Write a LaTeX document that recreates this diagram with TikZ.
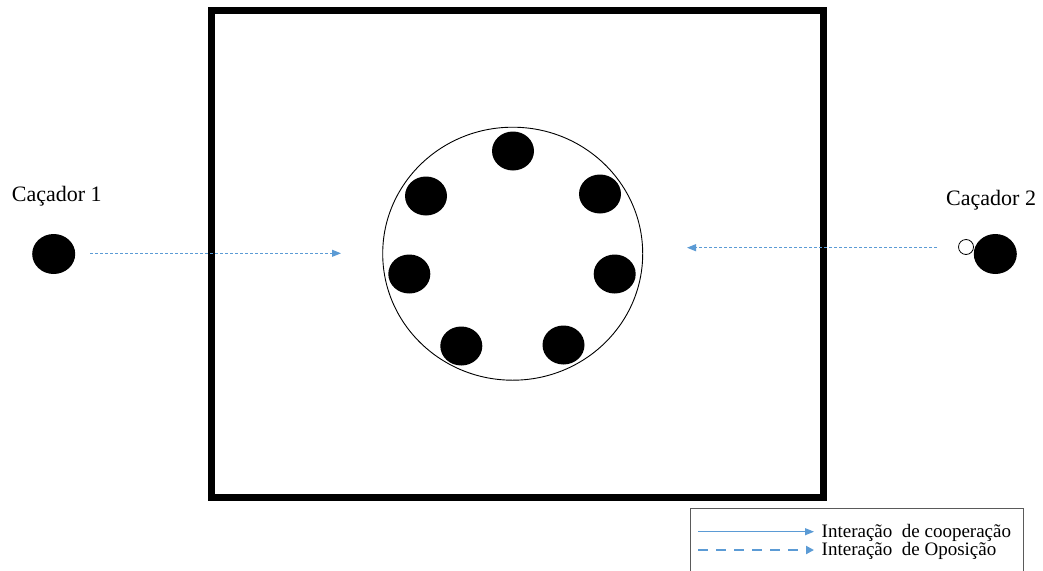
\documentclass[tikz,border=0pt]{standalone}
\usepackage{fontspec}
\setmainfont{Liberation Serif}
\usetikzlibrary{arrows.meta,shapes.geometric}
\definecolor{arrblue}{RGB}{91,155,213}
\definecolor{legframe}{RGB}{90,90,90}
\tikzset{
  dot/.style={ellipse,fill=black,draw=none,minimum width=42pt,minimum height=39pt,inner sep=0pt},
  hunterdot/.style={ellipse,fill=black,draw=none,minimum width=43pt,minimum height=40pt,inner sep=0pt},
  smallring/.style={circle,draw=black,line width=0.8pt,fill=white,minimum size=15pt,inner sep=0pt},
  label22/.style={anchor=base west,inner sep=0pt,font=\fontsize{22}{26}\selectfont},
  label19/.style={anchor=base west,inner sep=0pt,font=\fontsize{19}{23}\selectfont},
  dottedarrow/.style={arrblue,line width=1pt,dash pattern=on 3pt off 2pt,
     -{Triangle[length=9pt,width=7pt]}},
  solidarrow/.style={arrblue,line width=1pt,-{Triangle[length=9pt,width=7pt]}},
  dashedarrow/.style={arrblue,line width=2.8pt,dash pattern=on 10pt off 8pt,
     -{Triangle[length=8pt,width=8pt]}},
}
\begin{document}
\begin{tikzpicture}[x=1pt,y=-1pt]
\clip (0,0) rectangle (1043,570);
\fill[white] (0,0) rectangle (1043,570);
\useasboundingbox (0,0) rectangle (1043,570);
% outer square
\node[draw=black,line width=7pt,minimum width=612pt,minimum height=487pt,inner sep=0pt] (box) at (517.7,254.2) {};
% central circle
\node[ellipse,draw=black,line width=0.9pt,minimum width=260pt,minimum height=253pt,inner sep=0pt] (ring) at (512.7,253.7) {};
% prey dots
\node[dot] (p1) at (513,151) {};
\node[dot] (p2) at (426,196) {};
\node[dot] (p3) at (600,194) {};
\node[dot] (p4) at (409.3,274) {};
\node[dot] (p5) at (614.7,274) {};
\node[dot] (p6) at (461.3,346) {};
\node[dot] (p7) at (563.5,345) {};
% hunters
\node[hunterdot] (h1) at (53.7,254) {};
\node[label22] (t1) at (11.7,201.7) {Caçador 1};
\node[hunterdot] (h2) at (995.3,254) {};
\node[smallring] (s2) at (966,247) {};
\node[label22] (t2) at (946,205) {Caçador 2};
% arrows
\coordinate (a1s) at (90,253.3);
\coordinate (a1e) at (341,253.3);
\draw[dottedarrow] (a1s) -- (a1e);
\coordinate (a2s) at (937,247.7);
\coordinate (a2e) at (687,247.7);
\draw[dottedarrow] (a2s) -- (a2e);
% legend
\node[draw=legframe,line width=1pt,minimum width=333pt,minimum height=80pt,inner sep=0pt,anchor=north west] (leg) at (690,508) {};
\coordinate (l1s) at (698,531.7);
\coordinate (l1e) at (814,531.7);
\draw[solidarrow] (l1s) -- (l1e);
\coordinate (l2s) at (698,550);
\coordinate (l2e) at (814,550);
\draw[dashedarrow] (l2s) -- (l2e);
\node[label19] (lt1) at (821.5,537) {Interação\ \ de cooperação};
\node[label19] (lt2) at (821.5,555.5) {Interação\ \ de Oposição};
\end{tikzpicture}
\end{document}
